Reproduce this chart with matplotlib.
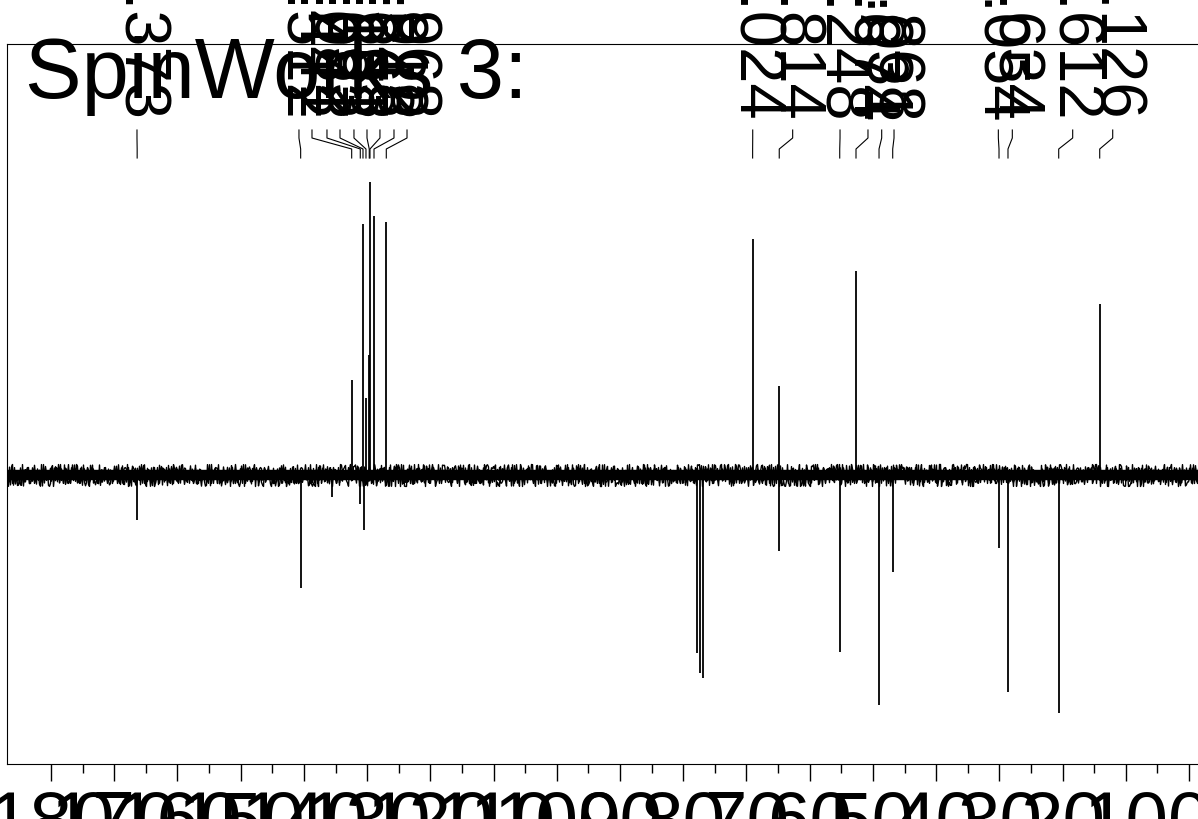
import numpy as np
import matplotlib.pyplot as plt
from matplotlib.lines import Line2D
from matplotlib.transforms import blended_transform_factory

plt.rcParams['font.family'] = ['Liberation Sans', 'DejaVu Sans']

# DEPT-135 peaks: chemical shift (ppm) and signed intensity
peak_ppm = [166.373, 140.512, 135.604, 132.441, 131.082, 130.653, 130.570,
            130.181, 129.663, 129.548, 128.912, 126.968,
            77.780, 77.302, 76.923, 69.024, 64.902, 64.814,
            55.248, 52.674, 49.031, 46.868, 30.054, 28.634, 20.612, 14.126]
peak_int = [-45, -113, -22, 95, -29, 251, -55,
            77, 120, 293, 259, 253,
            -178, -198, -203, 236, 89, -76,
            -177, 204, -230, -97, -73, -217, -238, 171]

# peaks that carry a shift label, and where the label text sits (ppm)
label_ppm = [166.373, 140.512, 132.441, 131.082, 130.653, 130.181, 129.663,
             129.548, 128.912, 126.968, 69.024, 64.814, 55.248, 52.674,
             49.031, 46.868, 30.054, 28.634, 20.612, 14.126]
label_pos = [166.40, 140.78, 138.72, 136.35, 134.29, 132.08, 130.02,
             127.97, 125.75, 123.69, 69.01, 62.69, 55.20, 50.78,
             48.61, 46.66, 30.16, 27.95, 18.40, 12.07]

ppm_major = np.arange(0, 181, 10)
ppm_minor = np.arange(5, 181, 10)

W, H = 1198, 819
fig = plt.figure(figsize=(W / 100, H / 100), dpi=100)
ax = fig.add_axes([7 / W, 1 - 764 / H, 1 - 7 / W, (764 - 44) / H])
ax.set_xlim(186.96, -1.42)
ax.set_ylim(-289, 431)

# baseline with noise texture
ax.plot([186.96, -1.42], [0, 0], color='k', lw=7.5)
for sc, ln_len in ((11, 1.2), (8, 2.0)):
    noise, = ax.plot([186.96, -1.42], [0, 0], color='k', lw=1.0)
    noise.set_sketch_params(scale=sc, length=ln_len, randomness=3)

ax.vlines(peak_ppm, 0, peak_int, color='k', lw=1.3)

ax.spines['right'].set_visible(False)
ax.set_yticks([])
ax.set_xticks(ppm_major)
ax.set_xticklabels([str(v) for v in ppm_major])
ax.set_xticks(ppm_minor, minor=True)
ax.tick_params(axis='x', which='major', length=12.5, width=1, pad=6, labelsize=55)
ax.tick_params(axis='x', which='minor', length=6.5, width=1)

# shift labels with their leader lines above the frame
blend = blended_transform_factory(ax.transData, fig.transFigure)
for p, lx in zip(label_ppm, label_pos):
    ax.text(lx, 1 - 123 / H, f"{p:.3f}", transform=blend, rotation=-90,
            ha='center', va='bottom', fontsize=47, clip_on=False)
    ln = Line2D([lx, lx, p, p], [1 - 130 / H, 1 - 138 / H, 1 - 149 / H, 1 - 158 / H],
                transform=blend, color='k', lw=0.8, clip_on=False)
    ax.add_line(ln)

fig.text(25 / W, 1 - 98 / H, "SpinWorks 3:", fontsize=61, ha='left', va='baseline')

fig.savefig('out.png', dpi=100)
